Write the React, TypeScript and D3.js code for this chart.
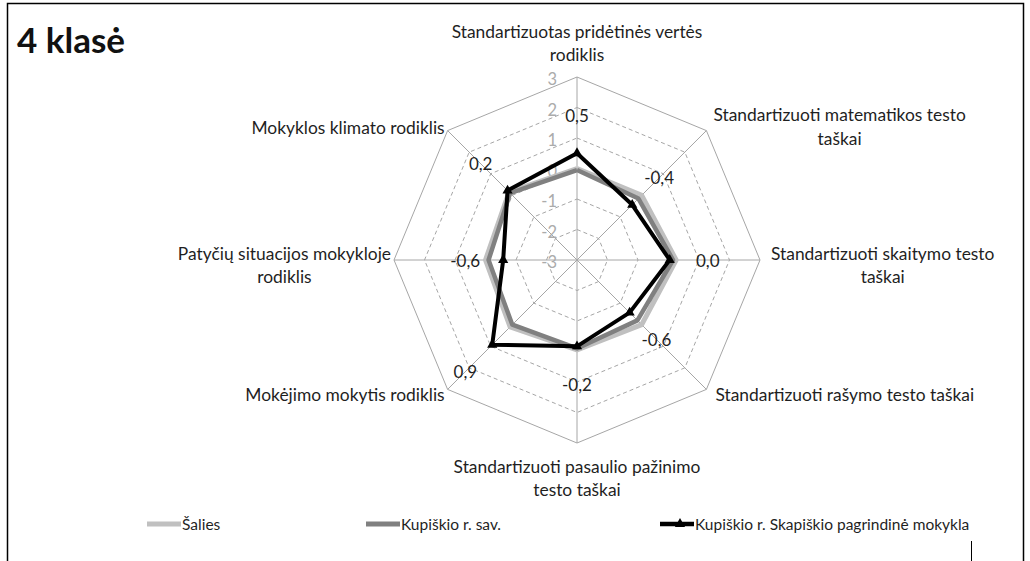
import React from "react";
import * as d3 from "d3";

const categories: string[][] = [
  ["Standartizuotas pridėtinės vertės", "rodiklis"],
  ["Standartizuoti matematikos testo", "taškai"],
  ["Standartizuoti skaitymo testo", "taškai"],
  ["Standartizuoti rašymo testo taškai"],
  ["Standartizuoti pasaulio pažinimo", "testo taškai"],
  ["Mokėjimo mokytis rodiklis"],
  ["Patyčių situacijos mokykloje", "rodiklis"],
  ["Mokyklos klimato rodiklis"],
];
const seriesNames = ["Šalies", "Kupiškio r. sav.", "Kupiškio r. Skapiškio pagrindinė mokykla"];
const salies = [0.0, 0.0, 0.25, 0.0, -0.05, 0.1, 0.0, 0.15];
const kupiskioSav = [-0.05, -0.15, 0.15, -0.2, -0.1, 0.0, -0.1, 0.1];
const skapiskio = [0.5, -0.44, 0.04, -0.56, -0.17, 0.93, -0.58, 0.22];
const ticks = [-3, -2, -1, 0, 1, 2, 3];

const FONT = "Lato, 'Open Sans', sans-serif";
const W = 1030, H = 561;
const cx = 577, cy = 260, R = 183;
const CAT_SIZE = 17.4;
const LINE_H = 23.5;

const measure = (() => {
  let ctx: CanvasRenderingContext2D | null = null;
  return (t: string, size: number) => {
    if (!ctx) {
      const c = document.createElement("canvas");
      ctx = c.getContext("2d");
    }
    if (!ctx) return t.length * size * 0.5;
    ctx.font = `${size}px Lato`;
    return ctx.measureText(t).width;
  };
})();

const fmt = (v: number) => v.toFixed(1).replace(".", ",");

export default function App() {
  const r = d3.scaleLinear().domain([-3, 3]).range([0, R]);
  const n = categories.length;
  const ang = (i: number) => (i * 2 * Math.PI) / n;
  const pt = (i: number, rad: number): [number, number] => [
    cx + rad * Math.sin(ang(i)),
    cy - rad * Math.cos(ang(i)),
  ];
  const line = d3.line<[number, number]>();
  const ring = (v: number) => line([...d3.range(n).map((i) => pt(i, r(v))), pt(0, r(v))]) || "";
  const seriesPath = (vals: number[]) =>
    line([...vals.map((v, i) => pt(i, r(v))), pt(0, r(vals[0]))]) || "";
  const tri = d3.symbol().type(d3.symbolTriangle).size(45)() || "";

  const catLayout: { dx: number; dy: number; align: "middle" | "start" | "end" }[] = [
    { dx: 0, dy: -34, align: "middle" },
    { dx: 7, dy: -4, align: "start" },
    { dx: 11, dy: 5, align: "start" },
    { dx: 9, dy: 5, align: "start" },
    { dx: 0, dy: 35, align: "middle" },
    { dx: -3, dy: 5, align: "end" },
    { dx: -3, dy: 5, align: "end" },
    { dx: -3, dy: -3, align: "end" },
  ];

  const legendItems = [
    { x: 147, color: "#c0c0c0", w: 5, marker: false },
    { x: 366, color: "#808080", w: 5, marker: false },
    { x: 660, color: "#000000", w: 4.5, marker: true },
  ];

  return (
    <svg
      width={W}
      height={H}
      style={{ position: "absolute", left: 0, top: 0, background: "#fff" }}
      fontFamily={FONT}
    >
      <rect x={0} y={0} width={W} height={H} fill="#fff" />
      <path d={`M7.5,561 V3.5 H1023.5 V561`} fill="none" stroke="#000" strokeWidth={1.5} />
      <line x1={971.5} x2={971.5} y1={541} y2={561} stroke="#000" strokeWidth={1} />

      <text x={17} y={53} fontSize={35} fontWeight="bold" fill="#111">
        4 klasė
      </text>

      {ticks.slice(1).map((t) => (
        <path
          key={t}
          d={ring(t)}
          fill="none"
          stroke="#a6a6a6"
          strokeWidth={1}
          strokeDasharray={t === 3 ? undefined : "4,3"}
        />
      ))}
      {d3.range(n).map((i) => {
        const [x, y] = pt(i, R);
        return <line key={i} x1={cx} y1={cy} x2={x} y2={y} stroke="#a6a6a6" strokeWidth={1} />;
      })}
      {ticks.map((t) => (
        <text
          key={t}
          x={cx - 20}
          y={cy - r(t) + 2}
          textAnchor="end"
          dominantBaseline="central"
          fontSize={16.5}
          fill="#ababab"
        >
          {t}
        </text>
      ))}

      <path d={seriesPath(salies)} fill="none" stroke="#c0c0c0" strokeWidth={5} strokeLinejoin="round" />
      <path d={seriesPath(kupiskioSav)} fill="none" stroke="#808080" strokeWidth={4.5} strokeLinejoin="round" />
      <path d={seriesPath(skapiskio)} fill="none" stroke="#000" strokeWidth={4} strokeLinejoin="miter" />
      {skapiskio.map((v, i) => {
        const [x, y] = pt(i, r(v));
        return <path key={i} d={tri} transform={`translate(${x},${y})`} fill="#000" />;
      })}
      {skapiskio.map((v, i) => {
        const [x, y] = pt(i, r(v) + 38);
        return (
          <text key={i} x={x} y={y} textAnchor="middle" dominantBaseline="central" fontSize={17} fill="#1f1f1f">
            {fmt(v)}
          </text>
        );
      })}

      {categories.map((lines, i) => {
        const [vx, vy] = pt(i, R);
        const L = catLayout[i];
        const widths = lines.map((l) => measure(l, CAT_SIZE));
        const bw = Math.max(...widths);
        let mx = vx + L.dx;
        if (L.align === "start") mx = vx + L.dx + bw / 2;
        if (L.align === "end") mx = vx + L.dx - bw / 2;
        const cyBlock = vy + L.dy;
        const y0 = cyBlock - ((lines.length - 1) * LINE_H) / 2;
        return (
          <g key={i}>
            {lines.map((l, j) => (
              <text
                key={j}
                x={mx}
                y={y0 + j * LINE_H}
                textAnchor="middle"
                dominantBaseline="central"
                fontSize={CAT_SIZE}
                fill="#1f1f1f"
              >
                {l}
              </text>
            ))}
          </g>
        );
      })}

      {legendItems.map((it, k) => (
        <g key={k}>
          <line x1={it.x} x2={it.x + 34} y1={524} y2={524} stroke={it.color} strokeWidth={it.w} />
          {it.marker && <path d={tri} transform={`translate(${it.x + 20},524)`} fill="#000" />}
          <text x={it.x + 35} y={524} dominantBaseline="central" fontSize={15.5} fill="#1f1f1f">
            {seriesNames[k]}
          </text>
        </g>
      ))}
    </svg>
  );
}
